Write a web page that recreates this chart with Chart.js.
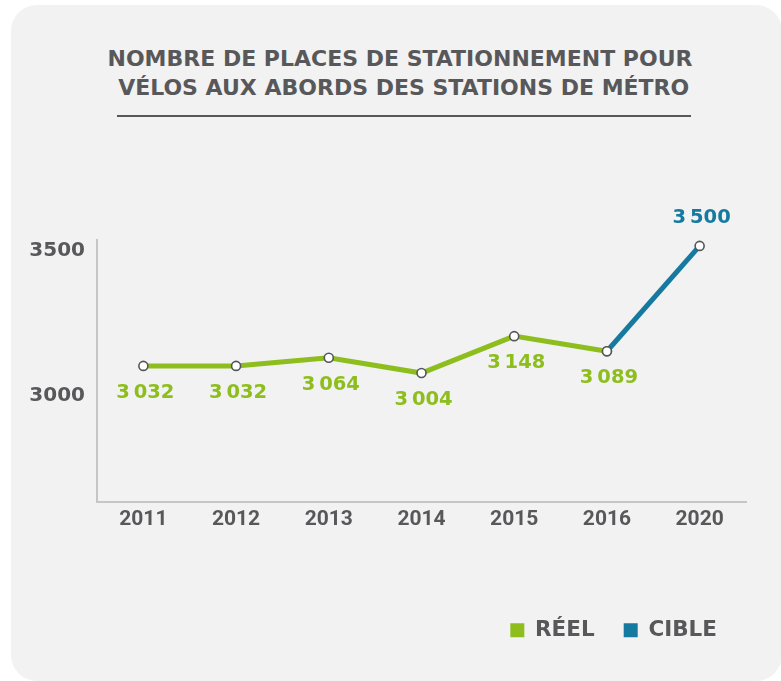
<!DOCTYPE html>
<html>
<head>
<meta charset="utf-8">
<script src="https://cdn.jsdelivr.net/npm/chart.js@4/dist/chart.umd.min.js"></script>
<style>
  html, body { margin:0; padding:0; background:#ffffff; width:781px; height:681px; overflow:hidden; }
  #card { position:absolute; left:11px; top:5px; width:771px; height:676px; background:#f2f2f2; border-radius:26px; }
  #title { position:absolute; left:0; top:45.3px; width:800px; text-align:center; font-family:"DejaVu Sans"; font-weight:bold; font-size:22px; line-height:28.7px; color:#58585a; white-space:nowrap; }
  #title .l2 { position:relative; left:3.7px; }
  #rule { position:absolute; left:116.7px; top:114.5px; width:574px; height:2px; background:#58585a; }
  #wrap { position:absolute; left:0; top:0; width:781px; height:681px; }
</style>
</head>
<body>
<div id="card"></div>
<div id="title"><div>NOMBRE DE PLACES DE STATIONNEMENT POUR</div><div class="l2">VÉLOS AUX ABORDS DES STATIONS DE MÉTRO</div></div>
<div id="rule"></div>
<div id="wrap"><canvas id="c"></canvas></div>
<script>
// ---- data ----
const years = ['2011', '2012', '2013', '2014', '2015', '2016', '2020'];
const reel  = [3032, 3032, 3064, 3004, 3148, 3089, null];
const cible = [null, null, null, null, null, 3089, 3500];
const seriesNames = ['RÉEL', 'CIBLE'];
const yTickValues = [2916, 3482];
const yTickLabels = ['3000', '3500'];
const yRange = [2503, 3523];

const GREEN = '#8dbe1d';
const BLUE = '#16799f';
const GREY = '#58585a';

function fmt(v) {
  return String(v).replace(/(\d)(?=(\d{3})+$)/g, '$1\u2009');
}

const valueLabels = {
  id: 'valueLabels',
  afterDatasetsDraw(chart) {
    const ctx = chart.ctx;
    ctx.save();
    ctx.font = 'bold 19.5px "DejaVu Sans"';
    ctx.textAlign = 'center';
    ctx.textBaseline = 'middle';
    chart.data.datasets.forEach((ds, di) => {
      const meta = chart.getDatasetMeta(di);
      meta.data.forEach((pt, i) => {
        const v = ds.data[i];
        if (v == null) return;
        if (di === 1 && reel[i] != null) return;
        ctx.fillStyle = ds.borderColor;
        ctx.fillText(fmt(v), pt.x + 2, pt.y + (di === 0 ? 27 : -28));
      });
    });
    ctx.restore();
  }
};

const pointStyle = {
  pointRadius: 4.5,
  pointBorderWidth: 1.6,
  pointBackgroundColor: '#ffffff',
  pointBorderColor: '#55565a',
  borderWidth: 5,
  tension: 0,
  spanGaps: false,
  clip: false
};

new Chart(document.getElementById('c'), {
  type: 'line',
  data: {
    labels: years,
    datasets: [
      Object.assign({ label: seriesNames[0], data: reel, borderColor: GREEN, backgroundColor: GREEN }, pointStyle),
      Object.assign({ label: seriesNames[1], data: cible, borderColor: BLUE, backgroundColor: BLUE }, pointStyle)
    ]
  },
  options: {
    responsive: true,
    maintainAspectRatio: false,
    animation: false,
    events: [],
    layout: { padding: { top: 240, left: 10, right: 35, bottom: 30 } },
    plugins: {
      title: { display: false },
      tooltip: { enabled: false },
      legend: {
        display: true,
        position: 'bottom',
        align: 'end',
        labels: {
          boxWidth: 14,
          boxHeight: 14,
          padding: 29,
          color: GREY,
          font: { family: 'DejaVu Sans', weight: 'bold', size: 21.5 },
          generateLabels(chart) {
            return chart.data.datasets.map((ds, i) => ({
              text: ds.label,
              fillStyle: ds.borderColor,
              strokeStyle: ds.borderColor,
              lineWidth: 0,
              hidden: false,
              datasetIndex: i,
              fontColor: GREY
            }));
          }
        }
      }
    },
    scales: {
      x: {
        type: 'category',
        offset: true,
        grid: { display: false, drawTicks: false },
        border: { display: true, color: '#c6c6c6', width: 2 },
        ticks: { color: GREY, padding: 6, font: { family: 'Roboto', weight: 'bold', size: 21 } },
        afterFit(scale) { scale.height = 89; }
      },
      y: {
        type: 'linear',
        min: yRange[0],
        max: yRange[1],
        grid: { display: false, drawTicks: false },
        border: { display: true, color: '#c6c6c6', width: 2 },
        afterBuildTicks(scale) { scale.ticks = yTickValues.map(v => ({ value: v })); },
        ticks: {
          color: GREY,
          padding: 12,
          font: { family: 'DejaVu Sans', weight: 'bold', size: 20 },
          callback(value, index) { return yTickLabels[index]; }
        },
        afterFit(scale) { scale.width = 87; }
      }
    }
  },
  plugins: [valueLabels]
});
</script>
</body>
</html>
